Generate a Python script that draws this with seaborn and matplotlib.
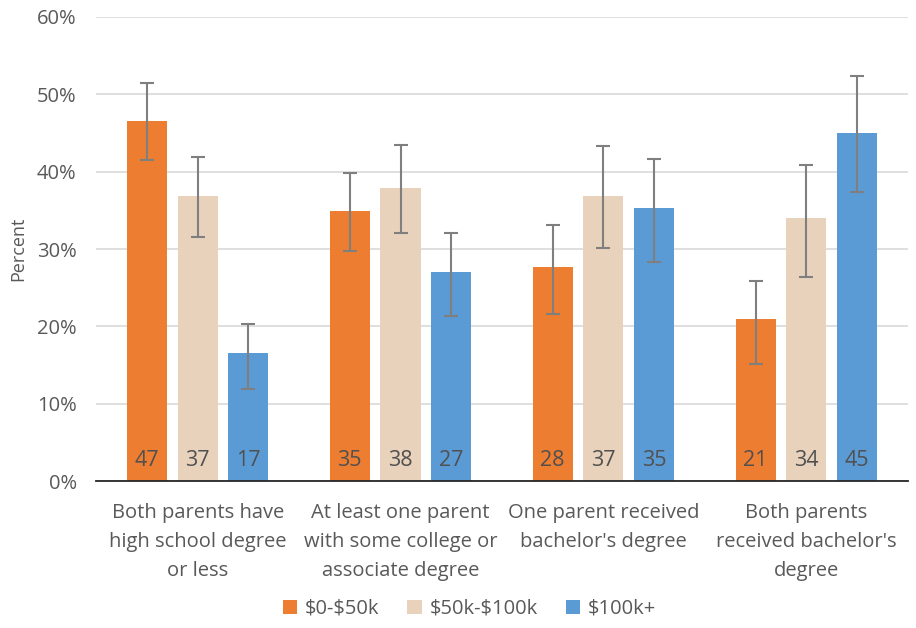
import numpy as np
import pandas as pd
import seaborn as sns
import matplotlib.pyplot as plt
from matplotlib.ticker import FuncFormatter

# categories and series
categories = [
    "Both parents have\nhigh school degree\nor less",
    "At least one parent\nwith some college or\nassociate degree",
    "One parent received\nbachelor's degree",
    "Both parents\nreceived bachelor's\ndegree",
]
incomes = ["$0-$50k", "$50k-$100k", "$100k+"]

low_income = [46.6, 34.9, 27.7, 21.0]
mid_income = [36.9, 37.9, 36.9, 34.0]
high_income = [16.6, 27.0, 35.3, 45.0]

# error bar ends (lower, upper)
low_income_err = [(41.5, 51.5), (29.8, 39.8), (21.6, 33.1), (15.1, 25.9)]
mid_income_err = [(31.6, 41.9), (32.1, 43.5), (30.1, 43.3), (26.4, 40.9)]
high_income_err = [(11.9, 20.3), (21.3, 32.1), (28.3, 41.7), (37.4, 52.4)]

labels_low = [47, 35, 28, 21]
labels_mid = [37, 38, 37, 34]
labels_high = [17, 27, 35, 45]

colors = ["#ED7D31", "#E8D2BC", "#5B9BD5"]
text_gray = "#595959"

rows = []
for series, vals in zip(incomes, [low_income, mid_income, high_income]):
    for cat, v in zip(categories, vals):
        rows.append({"category": cat, "income": series, "value": v})
df = pd.DataFrame(rows)

sns.set_theme(style="white")
plt.rcParams["font.family"] = ["Open Sans", "DejaVu Sans"]
plt.rcParams["text.parse_math"] = False

fig = plt.figure(figsize=(9.16, 6.28), dpi=100)
ax = fig.add_axes([0.105, 0.234, 0.886, 0.739])

sns.barplot(data=df, x="category", y="value", hue="income", order=categories,
            hue_order=incomes, palette=colors, width=0.75, gap=0.21,
            errorbar=None, saturation=1, linewidth=0, ax=ax, zorder=2)

# error bars and value labels on each bar
all_err = [low_income_err, mid_income_err, high_income_err]
all_lab = [labels_low, labels_mid, labels_high]
for container, errs, labs in zip(ax.containers, all_err, all_lab):
    for bar, (lo, hi), lab in zip(container.patches, errs, labs):
        xc = bar.get_x() + bar.get_width() / 2
        h = bar.get_height()
        ax.errorbar(xc, h, yerr=[[h - lo], [hi - h]], color="#7F7F7F",
                    elinewidth=1.5, capsize=5, capthick=1.5, zorder=3)
        ax.text(xc, 2.6, str(lab), ha="center", va="center",
                fontsize=15.5, color="#505050", zorder=4)

ax.set_ylim(0, 60)
ax.set_xlim(-0.5, 3.5)
ax.set_yticks(range(0, 61, 10))
ax.yaxis.set_major_formatter(FuncFormatter(lambda v, p: f"{int(v)}%"))
ax.grid(axis="y", color="#D9D9D9", linewidth=1.2, zorder=0)
ax.set_axisbelow(True)
for s in ["top", "right", "left"]:
    ax.spines[s].set_visible(False)
ax.spines["bottom"].set_color("#262626")
ax.spines["bottom"].set_linewidth(1.3)
ax.tick_params(axis="y", length=0, labelsize=14.5, colors=text_gray, pad=14)
ax.tick_params(axis="x", length=0, labelsize=14.5, colors=text_gray, pad=16)
for t in ax.get_xticklabels():
    t.set_linespacing(1.6)
ax.set_xlabel("")
ax.set_ylabel("Percent", fontsize=13, color=text_gray, labelpad=7)

leg = ax.legend(loc="upper center", bbox_to_anchor=(0.46, -0.215), ncol=3,
                frameon=False, fontsize=14.5, handlelength=0.7, handleheight=0.7,
                columnspacing=1.4, handletextpad=0.4)
for t in leg.get_texts():
    t.set_color(text_gray)

fig.savefig("out.png", dpi=100)
